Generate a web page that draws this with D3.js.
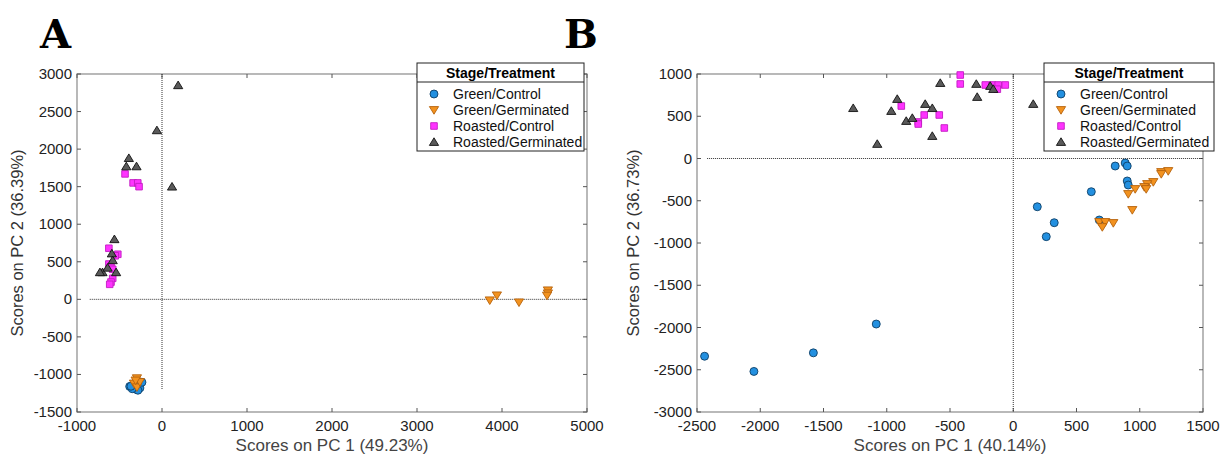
<!DOCTYPE html>
<html>
<head>
<meta charset="utf-8">
<script src="https://cdn.jsdelivr.net/npm/d3@7"></script>
<style>
  body { margin: 0; background: #fff; }
  text { font-family: "Liberation Sans", Arial, sans-serif; }
</style>
</head>
<body>
<div id="vis"></div>
<script>
// groups shared by both panels
var groups = ["Green/Control", "Green/Germinated", "Roasted/Control", "Roasted/Germinated"];

// Panel A scores [PC1, PC2]
var aGreenControl = [[-380, -1160], [-340, -1180], [-300, -1200], [-260, -1180], [-236, -1104],
  [-320, -1140], [-283, -1210], [-350, -1190], [-365, -1157]];
var aGreenGerminated = [[-295, -1050], [-330, -1120], [-295, -1170], [-260, -1100], [-310, -1080],
  [3856, -13], [3940, 53], [4200, -40], [4540, 120], [4540, 80], [4530, 50]];
var aRoastedControl = [[-435, 1670], [-340, 1550], [-285, 1550], [-270, 1500], [-625, 680],
  [-520, 600], [-550, 580], [-625, 470], [-600, 430], [-580, 400], [-580, 280], [-600, 230], [-615, 200]];
var aRoastedGerminated = [[190, 2850], [-60, 2250], [-390, 1880], [-420, 1770], [-300, 1770],
  [118, 1500], [-560, 800], [-590, 610], [-580, 520], [-700, 360], [-730, 360], [-540, 360], [-640, 420]];

// Panel B scores [PC1, PC2]
var bGreenControl = [[-2440, -2340], [-2050, -2520], [-1580, -2300], [-1083, -1959], [190, -571],
  [324, -760], [261, -925], [617, -393], [806, -89], [885, -53], [901, -89], [901, -266],
  [909, -314], [680, -728]];
var bGreenGerminated = [[1170, -160], [1225, -148], [1170, -183], [1107, -278], [1059, -302],
  [1036, -337], [1051, -361], [964, -361], [909, -420], [941, -609], [680, -751], [727, -751],
  [704, -811], [791, -763]];
var bRoastedControl = [[-419, 988], [-419, 882], [-885, 621], [-704, 515], [-751, 432], [-751, 408],
  [-585, 515], [-545, 361], [-221, 870], [-166, 870], [-119, 870], [-126, 820], [-63, 870]];
var bRoastedGerminated = [[-1265, 596], [-1075, 172], [-964, 562], [-917, 704], [-846, 444],
  [-798, 479], [-696, 645], [-640, 596], [-640, 266], [-577, 893], [-292, 882], [-285, 728],
  [-182, 858], [-158, 822], [158, 645]];

var xTicksA = [-1000, 0, 1000, 2000, 3000, 4000, 5000];
var yTicksA = [-1500, -1000, -500, 0, 500, 1000, 1500, 2000, 2500, 3000];
var xTicksB = [-2500, -2000, -1500, -1000, -500, 0, 500, 1000, 1500];
var yTicksB = [-3000, -2500, -2000, -1500, -1000, -500, 0, 500, 1000];

var styles = {
  "Green/Control": { shape: "circle", fill: "#2390e0", stroke: "#0f3f66" },
  "Green/Germinated": { shape: "down", fill: "#f2921f", stroke: "#b5620c" },
  "Roasted/Control": { shape: "square", fill: "#ff33ff", stroke: "#c21cc2" },
  "Roasted/Germinated": { shape: "up", fill: "#5a5a5a", stroke: "#111" }
};

var svg = d3.select("#vis").append("svg")
  .attr("width", 1220)
  .attr("height", 456);

function markerPath(shape) {
  if (shape === "circle") return d3.symbol(d3.symbolCircle, 50)();
  if (shape === "square") return "M-3.3,-3.3L3.3,-3.3L3.3,3.3L-3.3,3.3Z";
  if (shape === "up") return "M0,-4.2L4.6,3.4L-4.6,3.4Z";
  return "M0,4.2L4.6,-3.4L-4.6,-3.4Z";
}

function drawPanel(p) {
  var g = svg.append("g");
  var x = d3.scaleLinear().domain(p.xDomain).range([p.left, p.right]);
  var y = d3.scaleLinear().domain(p.yDomain).range([p.bottom, p.top]);

  // panel letter
  g.append("text")
    .attr("x", p.letterX).attr("y", 48)
    .style("font-family", "'DejaVu Serif', 'Liberation Serif', serif")
    .style("font-weight", "bold")
    .style("font-size", "40px")
    .text(p.letter);

  // frame
  g.append("rect")
    .attr("x", p.left).attr("y", p.top)
    .attr("width", p.right - p.left).attr("height", p.bottom - p.top)
    .attr("fill", "none").attr("stroke", "#8a8a8a").attr("stroke-width", 1.2);

  // inward ticks on all sides
  var tk = 4;
  p.xTicks.forEach(function(t) {
    g.append("line").attr("x1", x(t)).attr("x2", x(t)).attr("y1", p.bottom).attr("y2", p.bottom - tk)
      .attr("stroke", "#555");
    g.append("line").attr("x1", x(t)).attr("x2", x(t)).attr("y1", p.top).attr("y2", p.top + tk)
      .attr("stroke", "#555");
    g.append("text").attr("x", x(t)).attr("y", p.bottom + 19)
      .attr("text-anchor", "middle").style("font-size", "15px").attr("fill", "#222")
      .text(t);
  });
  p.yTicks.forEach(function(t) {
    g.append("line").attr("x1", p.left).attr("x2", p.left + tk).attr("y1", y(t)).attr("y2", y(t))
      .attr("stroke", "#555");
    g.append("line").attr("x1", p.right).attr("x2", p.right - tk).attr("y1", y(t)).attr("y2", y(t))
      .attr("stroke", "#555");
    g.append("text").attr("x", p.left - 5).attr("y", y(t) + 5)
      .attr("text-anchor", "end").style("font-size", "15px").attr("fill", "#222")
      .text(t);
  });

  // zero reference lines
  g.append("line")
    .attr("x1", x(p.hStart)).attr("x2", p.right).attr("y1", y(0)).attr("y2", y(0))
    .attr("stroke", "#333").attr("stroke-dasharray", "1,1");
  g.append("line")
    .attr("x1", x(0)).attr("x2", x(0)).attr("y1", p.top).attr("y2", y(p.vEnd))
    .attr("stroke", "#333").attr("stroke-dasharray", "1,1");

  // axis titles
  g.append("text")
    .attr("x", (p.left + p.right) / 2).attr("y", 451)
    .attr("text-anchor", "middle").style("font-size", "17px").attr("fill", "#444")
    .text(p.xLabel);
  g.append("text")
    .attr("transform", "translate(" + p.yLabelX + "," + ((p.top + p.bottom) / 2) + ") rotate(-90)")
    .attr("text-anchor", "middle").style("font-size", "16.5px").attr("fill", "#333")
    .text(p.yLabel);

  // points
  groups.forEach(function(name, i) {
    var st = styles[name];
    g.append("g").selectAll("path")
      .data(p.series[i])
      .join("path")
        .attr("transform", function(d) { return "translate(" + x(d[0]) + "," + y(d[1]) + ")"; })
        .attr("d", markerPath(st.shape))
        .attr("fill", st.fill)
        .attr("stroke", st.stroke)
        .attr("stroke-width", 0.9);
  });

  // legend
  var lg = g.append("g").attr("transform", "translate(" + p.legX + "," + p.legY + ")");
  lg.append("rect").attr("width", p.legW).attr("height", 88)
    .attr("fill", "#fff").attr("stroke", "#222").attr("stroke-width", 1);
  lg.append("line").attr("x1", 0).attr("x2", p.legW).attr("y1", 19).attr("y2", 19)
    .attr("stroke", "#222");
  lg.append("text").attr("x", p.legW / 2).attr("y", 15)
    .attr("text-anchor", "middle").style("font-weight", "bold").style("font-size", "14px")
    .text("Stage/Treatment");
  groups.forEach(function(name, i) {
    var st = styles[name];
    var ry = 31 + i * 16;
    lg.append("path")
      .attr("transform", "translate(17," + ry + ")")
      .attr("d", markerPath(st.shape))
      .attr("fill", st.fill).attr("stroke", st.stroke).attr("stroke-width", 0.9);
    lg.append("text").attr("x", 36).attr("y", ry + 5)
      .style("font-size", "14px").attr("fill", "#111")
      .text(name);
  });
}

drawPanel({
  letter: "A", letterX: 40,
  left: 77, right: 587, top: 74, bottom: 412,
  xDomain: [-1000, 5000], yDomain: [-1500, 3000],
  xTicks: xTicksA, yTicks: yTicksA,
  hStart: -850, vEnd: -1200,
  xLabel: "Scores on PC 1 (49.23%)", yLabel: "Scores on PC 2 (36.39%)", yLabelX: 23,
  series: [aGreenControl, aGreenGerminated, aRoastedControl, aRoastedGerminated],
  legX: 417, legY: 63, legW: 167
});

drawPanel({
  letter: "B", letterX: 564,
  left: 697, right: 1203, top: 74, bottom: 412,
  xDomain: [-2500, 1500], yDomain: [-3000, 1000],
  xTicks: xTicksB, yTicks: yTicksB,
  hStart: -2420, vEnd: -3000,
  xLabel: "Scores on PC 1 (40.14%)", yLabel: "Scores on PC 2 (36.73%)", yLabelX: 639,
  series: [bGreenControl, bGreenGerminated, bRoastedControl, bRoastedGerminated],
  legX: 1044, legY: 63, legW: 170
});
</script>
</body>
</html>
